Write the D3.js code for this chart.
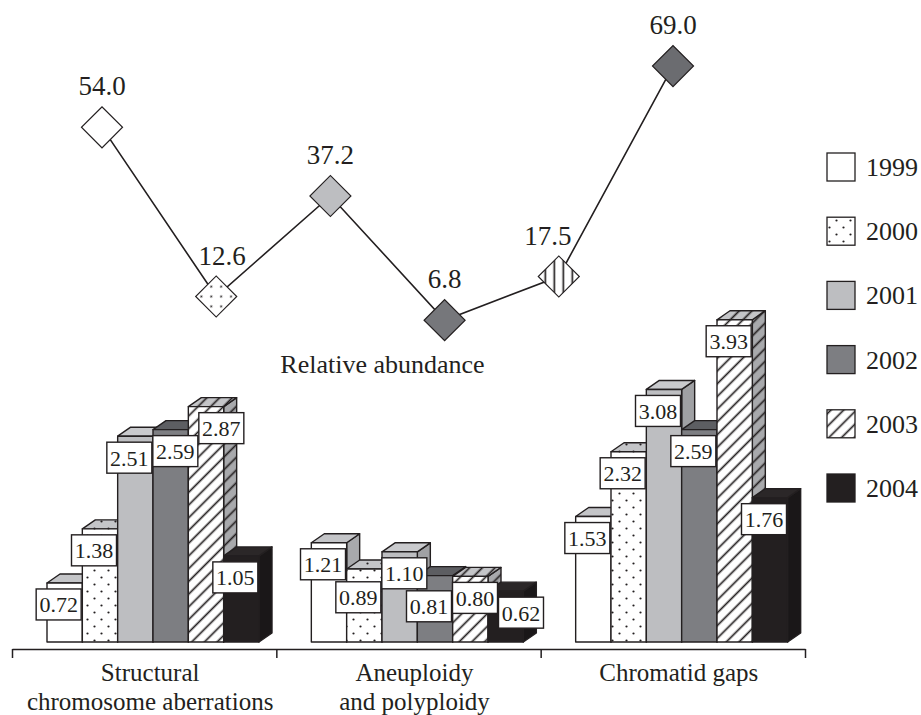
<!DOCTYPE html>
<html><head><meta charset="utf-8">
<script src="https://cdn.jsdelivr.net/npm/d3@7"></script>
<style>html,body{margin:0;padding:0;background:#fff;} svg{display:block;}</style>
</head><body>
<svg id="chart" width="921" height="715"></svg>
<script>
// ---- data ----
const years = ["1999", "2000", "2001", "2002", "2003", "2004"];
const categories = ["Structural\nchromosome aberrations", "Aneuploidy\nand polyploidy", "Chromatid gaps"];
const structural = [0.72, 1.38, 2.51, 2.59, 2.87, 1.05];
const aneuploidy = [1.21, 0.89, 1.10, 0.81, 0.80, 0.62];
const chromatidGaps = [1.53, 2.32, 3.08, 2.59, 3.93, 1.76];
const relativeAbundance = [54.0, 12.6, 37.2, 6.8, 17.5, 69.0];
const lineTitle = "Relative abundance";

// ---- styles ----
const INK = "#231f20";
const FONT = "'Liberation Serif','Times New Roman',serif";
const svg = d3.select("#chart");
const defs = svg.append("defs");
function makePattern(id, bg, kind) {
  const p = defs.append("pattern").attr("id", id).attr("patternUnits", "userSpaceOnUse");
  if (kind === "dots") {
    p.attr("width", 14).attr("height", 14);
    p.append("rect").attr("width", 14).attr("height", 14).attr("fill", bg);
    [[3.5, 3.5], [10.5, 10.5]].forEach(c => p.append("circle").attr("cx", c[0]).attr("cy", c[1]).attr("r", 1.1).attr("fill", INK));
  } else {
    p.attr("width", 9).attr("height", 9).attr("patternTransform", "rotate(45)");
    p.append("rect").attr("width", 9).attr("height", 9).attr("fill", bg);
    p.append("line").attr("x1", 4.5).attr("x2", 4.5).attr("y1", -1).attr("y2", 10).attr("stroke", INK).attr("stroke-width", 1.7);
  }
  return `url(#${id})`;
}
const dotsW = makePattern("dotsW", "#ffffff", "dots");
const dotsT = makePattern("dotsT", "#c4c5c8", "dots");
const dotsS = makePattern("dotsS", "#a8a9ac", "dots");
const hatchW = makePattern("hatchW", "#ffffff", "hatch");
const hatchT = makePattern("hatchT", "#c4c5c8", "hatch");
const hatchS = makePattern("hatchS", "#a8a9ac", "hatch");

const frontFill = ["#ffffff", dotsW, "#bdbec1", "#7d7e82", hatchW, "#231f20"];
const topFill = ["#c4c5c8", dotsT, "#c9cacd", "#5d5e62", hatchT, "#2b2728"];
const sideFill = ["#a8a9ac", dotsS, "#a0a1a4", "#68696d", hatchS, "#1a1718"];
const diamondFill = ["#ffffff", dotsW, "#bdbec1", "#76777b", hatchW, "#6b6c70"];

// ---- line chart (relative abundance) ----
const xLine = d3.scalePoint().domain(years).range([102, 673]);
const yLine = d3.scaleLinear().domain([0, 70]).range([348, 62]);
const pts = relativeAbundance.map((v, i) => [xLine(years[i]), yLine(v)]);
const lineG = svg.append("g");
lineG.append("path")
  .datum(pts)
  .attr("d", d3.line())
  .attr("fill", "none").attr("stroke", INK).attr("stroke-width", 1.6);
const sym = d3.symbol().type(d3.symbolSquare).size(29 * 29);
lineG.selectAll("path.dia").data(relativeAbundance).join("path")
  .attr("class", "dia")
  .attr("d", sym)
  .attr("transform", (d, i) => `translate(${pts[i][0]},${pts[i][1]}) rotate(-45)`)
  .attr("fill", (d, i) => diamondFill[i])
  .attr("stroke", INK).attr("stroke-width", 1.2);

// value labels: nudge sideways when a line segment passes through the label
function segHitsBox(a, b, box) {
  for (let t = 0; t <= 1; t += 0.01) {
    const x = a[0] + (b[0] - a[0]) * t, y = a[1] + (b[1] - a[1]) * t;
    if (x > box.x0 && x < box.x1 && y > box.y0 && y < box.y1) return true;
  }
  return false;
}
const valLabels = relativeAbundance.map((v, i) => {
  const [px, py] = pts[i];
  const hw = 24, base = py - 32;
  let dx = 0;
  const neighbours = [];
  if (i > 0) neighbours.push(pts[i - 1]);
  if (i < pts.length - 1) neighbours.push(pts[i + 1]);
  neighbours.forEach(nb => {
    const dir = nb[0] > px ? -1 : 1;
    let k = 0;
    while (k < 30 && segHitsBox([px, py], nb, { x0: px + dx - hw, x1: px + dx + hw, y0: base - 20, y1: base + 3 })) { dx += dir; k++; }
    if (k > 0) dx += dir * 2;
  });
  return { x: px + dx, y: base, v };
});
lineG.selectAll("text.val").data(valLabels).join("text")
  .attr("class", "val")
  .attr("x", d => d.x)
  .attr("y", d => d.y)
  .attr("text-anchor", "middle")
  .attr("font-family", FONT).attr("font-size", 27).attr("fill", INK)
  .text(d => d.v.toFixed(1));
lineG.append("text")
  .attr("x", (xLine.range()[0] + xLine.range()[1]) / 2 - 5)
  .attr("y", yLine(0) + 25)
  .attr("text-anchor", "middle")
  .attr("font-family", FONT).attr("font-size", 26).attr("fill", INK)
  .text(lineTitle);

// ---- bar chart ----
const series = [structural, aneuploidy, chromatidGaps];
const x0 = d3.scaleBand().domain(categories).range([12, 805]).padding(0);
const x1 = d3.scaleBand().domain(years).range([35, 247]).padding(0);
const yBar = d3.scaleLinear().domain([0, 4]).range([642, 314]);
const base = yBar(0);
const DX = 13, DY = 9;
const barG = svg.append("g");
const labels = [];
categories.forEach((cat, ci) => {
  const g = barG.append("g");
  const prevBoxes = [];
  series[ci].forEach((v, i) => {
    const x = x0(cat) + x1(years[i]);
    const w = x1.bandwidth();
    const yt = yBar(v);
    const st = { stroke: INK, "stroke-width": 1.4, "stroke-linejoin": "round" };
    const side = g.append("polygon")
      .attr("points", [[x + w, yt], [x + w + DX, yt - DY], [x + w + DX, base - DY], [x + w, base]].join(" "))
      .attr("fill", sideFill[i]);
    const top = g.append("polygon")
      .attr("points", [[x, yt], [x + DX, yt - DY], [x + w + DX, yt - DY], [x + w, yt]].join(" "))
      .attr("fill", topFill[i]);
    const front = g.append("rect")
      .attr("x", x).attr("y", yt).attr("width", w).attr("height", base - yt)
      .attr("fill", frontFill[i]);
    [side, top, front].forEach(s => Object.entries(st).forEach(([k, val]) => s.attr(k, val)));

    // label box placement with simple collision avoidance
    const bw = 45, bh = 31;
    let bx = x + w / 2 - 6 - bw / 2, by = yt + 6;
    const prev = prevBoxes[prevBoxes.length - 1];
    if (prev && bx < prev.x + bw && bx + bw > prev.x && by < prev.y + bh && by + bh > prev.y) {
      const right = prev.x + bw + 1 - bx;
      const down = prev.y + bh + 2 - by;
      if (down < right && by + down + bh <= base) by += down; else bx += right;
    }
    prevBoxes.push({ x: bx, y: by });
    labels.push({ x: bx, y: by, w: bw, h: bh, v });
  });
});
const labG = svg.append("g");
labG.selectAll("rect").data(labels).join("rect")
  .attr("x", d => d.x).attr("y", d => d.y).attr("width", d => d.w).attr("height", d => d.h)
  .attr("fill", "#fff").attr("stroke", INK).attr("stroke-width", 1.4);
labG.selectAll("text").data(labels).join("text")
  .attr("x", d => d.x + d.w / 2).attr("y", d => d.y + d.h / 2 + 8)
  .attr("text-anchor", "middle")
  .attr("font-family", FONT).attr("font-size", 22).attr("fill", INK)
  .text(d => d.v.toFixed(2));

// axis with ticks at band boundaries
const xEdge = d3.scaleLinear().domain([0, categories.length]).range(x0.range());
const axis = svg.append("g").attr("transform", "translate(0,649)")
  .call(d3.axisBottom(xEdge).tickValues(d3.range(categories.length + 1)).tickFormat("").tickSize(9).tickSizeOuter(0));
axis.selectAll("path,line").attr("stroke", INK).attr("stroke-width", 1.5);

// category labels
categories.forEach(cat => {
  const cx = x0(cat) + x0.bandwidth() / 2 + 6;
  const t = svg.append("text")
    .attr("x", cx)
    .attr("text-anchor", "middle")
    .attr("font-family", FONT).attr("font-size", 25).attr("fill", INK);
  cat.split("\n").forEach((line, li) => {
    t.append("tspan").attr("x", cx).attr("y", 681 + li * 29).text(line);
  });
});

// legend
const legendFill = ["#ffffff", dotsW, "#bdbec1", "#7d7e82", hatchW, "#231f20"];
const leg = svg.append("g");
const legY = d3.scalePoint().domain(years).range([167, 488]);
years.forEach((yr, i) => {
  leg.append("rect").attr("x", 827).attr("y", legY(yr) - 14).attr("width", 28).attr("height", 28)
    .attr("fill", legendFill[i]).attr("stroke", INK).attr("stroke-width", 1.3);
  leg.append("text").attr("x", 866).attr("y", legY(yr) + 9)
    .attr("font-family", FONT).attr("font-size", 26).attr("fill", INK).text(yr);
});
</script>
</body></html>
